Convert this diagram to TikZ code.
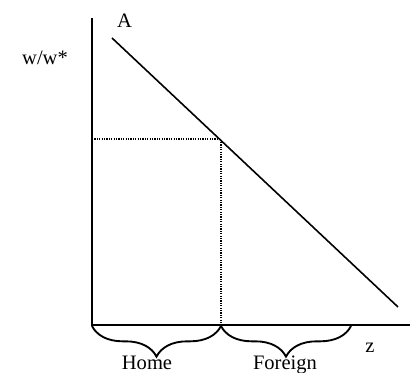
\documentclass[tikz,border=0pt]{standalone}
\usepackage{fontspec}
\setmainfont{Liberation Serif}
\usetikzlibrary{decorations.pathreplacing}

\begin{document}
\begin{tikzpicture}[x=0.75pt, y=-0.75pt, line width=1.2pt,
    lbl/.style={inner sep=0pt, font=\fontsize{15.4}{18}\selectfont},
    region/.style={decorate, line width=1.4pt, decoration={brace, mirror, amplitude=23pt}},
    guide/.style={line width=0.8pt, dash pattern=on 0.9pt off 0.9pt}]
  \useasboundingbox (0,0) rectangle (412,373);
  % axes
  \coordinate (O) at (92,325);
  \coordinate (ytop) at (92,18);
  \coordinate (xend) at (410,325);
  \draw (ytop) -- (O) -- (xend);
  % relative wage schedule
  \coordinate (a1) at (112,38);
  \coordinate (a2) at (398,307);
  \draw (a1) -- (a2);
  \coordinate (E) at (221,139);
  \draw[guide] (O |- E) -- (E) -- (E |- O);
  % specialisation
  \coordinate (b1) at (92,326);
  \coordinate (b2) at (221,326);
  \coordinate (b3) at (351,326);
  \draw[region] (b1) -- (b2);
  \draw[region] (b2) -- (b3);
  % labels
  \node[lbl, anchor=base] (lA) at (124.5,28) {A};
  \node[lbl, anchor=base] (lw) at (45,65) {w/w*};
  \node[lbl, anchor=base] (lz) at (370,353) {z};
  \node[lbl, anchor=base] (home) at (147,369.5) {Home};
  \node[lbl, anchor=base] (foreign) at (285,369.5) {Foreign};
\end{tikzpicture}
\end{document}
